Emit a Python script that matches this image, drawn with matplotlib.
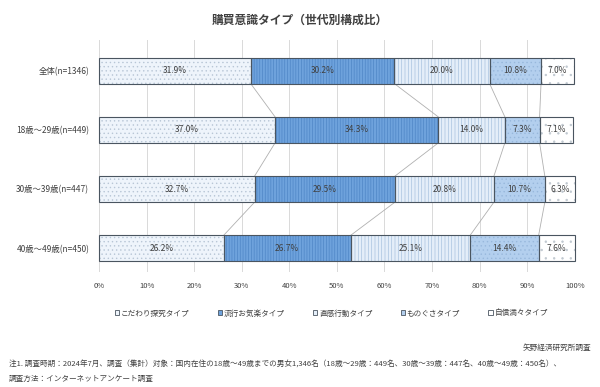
import numpy as np
import matplotlib
matplotlib.use("Agg")
import matplotlib.pyplot as plt
from matplotlib.patches import Patch

plt.rcParams['font.family'] = ['Noto Sans CJK JP', 'DejaVu Sans']
plt.rcParams['hatch.linewidth'] = 0.5

# Data
groups = ["全体(n=1346)", "18歳～29歳(n=449)", "30歳～39歳(n=447)", "40歳～49歳(n=450)"]
types = ["こだわり探究タイプ", "流行お気楽タイプ", "直感行動タイプ", "ものぐさタイプ", "自信満々タイプ"]
kodawari = [31.9, 37.0, 32.7, 26.2]
ryuko = [30.2, 34.3, 29.5, 26.7]
chokkan = [20.0, 14.0, 20.8, 25.1]
monogusa = [10.8, 7.3, 10.7, 14.4]
jishin = [7.0, 7.1, 6.3, 7.6]
values = [kodawari, ryuko, chokkan, monogusa, jishin]

faces = ["#eef4fb", "#6ea2dc", "#e4eef9", "#b3cfee", "#ffffff"]
hatch_cols = ["#b8c6d6", "#4f86c6", "#a9c2df", "#98b8dc", "#c0c8d0"]
hatches = ["....", "||||||", "|||||", "....", ".."]

fig = plt.figure(figsize=(6, 3.87), dpi=100)
ax = fig.add_axes([0.165, 0.297, 0.793, 0.6])

y = np.arange(len(groups))
h = 0.44
left = np.zeros(len(groups))
handles = []
for i, vals in enumerate(values):
    vals = np.array(vals)
    ax.barh(y, vals, left=left, height=h, color=faces[i], hatch=hatches[i],
            edgecolor=hatch_cols[i], linewidth=0, zorder=3, clip_on=False)
    ax.barh(y, vals, left=left, height=h, fill=False, edgecolor="#4a5560",
            linewidth=0.8, zorder=4, clip_on=False)
    handles.append(Patch(facecolor=faces[i], edgecolor="#4a5560", linewidth=0.6))
    for yy, l, v in zip(y, left, vals):
        ax.text(l + v / 2, yy, f"{v:.1f}%", ha="center", va="center",
                fontsize=6, color="#404040", zorder=5)
    left = left + vals
    # connector lines between consecutive bars
    if i < len(values) - 1:
        for k in range(len(groups) - 1):
            ax.plot([left[k], left[k + 1]], [y[k] + h / 2, y[k + 1] - h / 2],
                    color="#b0b0b0", linewidth=0.6, zorder=2)

ax.set_xlim(0, 100)
ax.set_ylim(3.4, -0.52)
ax.set_xticks(np.arange(0, 101, 10))
ax.set_xticklabels([f"{t}%" for t in range(0, 101, 10)], fontsize=5.5, color="#404040")
ax.set_yticks(y)
ax.set_yticklabels(groups, fontsize=6, color="#404040")
ax.tick_params(length=0, pad=7)
ax.grid(axis="x", color="#d9d9d9", linewidth=0.7, zorder=0)
for s in ax.spines.values():
    s.set_visible(False)

fig.text(0.5, 0.948, "購買意識タイプ（世代別構成比）", ha="center", va="center",
         fontsize=8.5, fontweight="bold", color="#404040")

fig.legend(handles=handles, labels=types, loc="center", bbox_to_anchor=(0.552, 0.19),
           ncol=5, frameon=False, fontsize=5.5, handlelength=0.6, handleheight=0.6,
           handletextpad=0.2, columnspacing=3.7, labelcolor="#404040")

fig.text(0.985, 0.1, "矢野経済研究所調査", ha="right", va="center", fontsize=5.5, color="#404040")
fig.text(0.015, 0.057, "注1. 調査時期：2024年7月、調査（集計）対象：国内在住の18歳～49歳までの男女1,346名"
         "（18歳～29歳：449名、30歳～39歳：447名、40歳～49歳：450名）、",
         ha="left", va="center", fontsize=5.5, color="#404040")
fig.text(0.015, 0.022, "調査方法：インターネットアンケート調査", ha="left", va="center",
         fontsize=5.5, color="#404040")

fig.savefig("out.png", dpi=100)
